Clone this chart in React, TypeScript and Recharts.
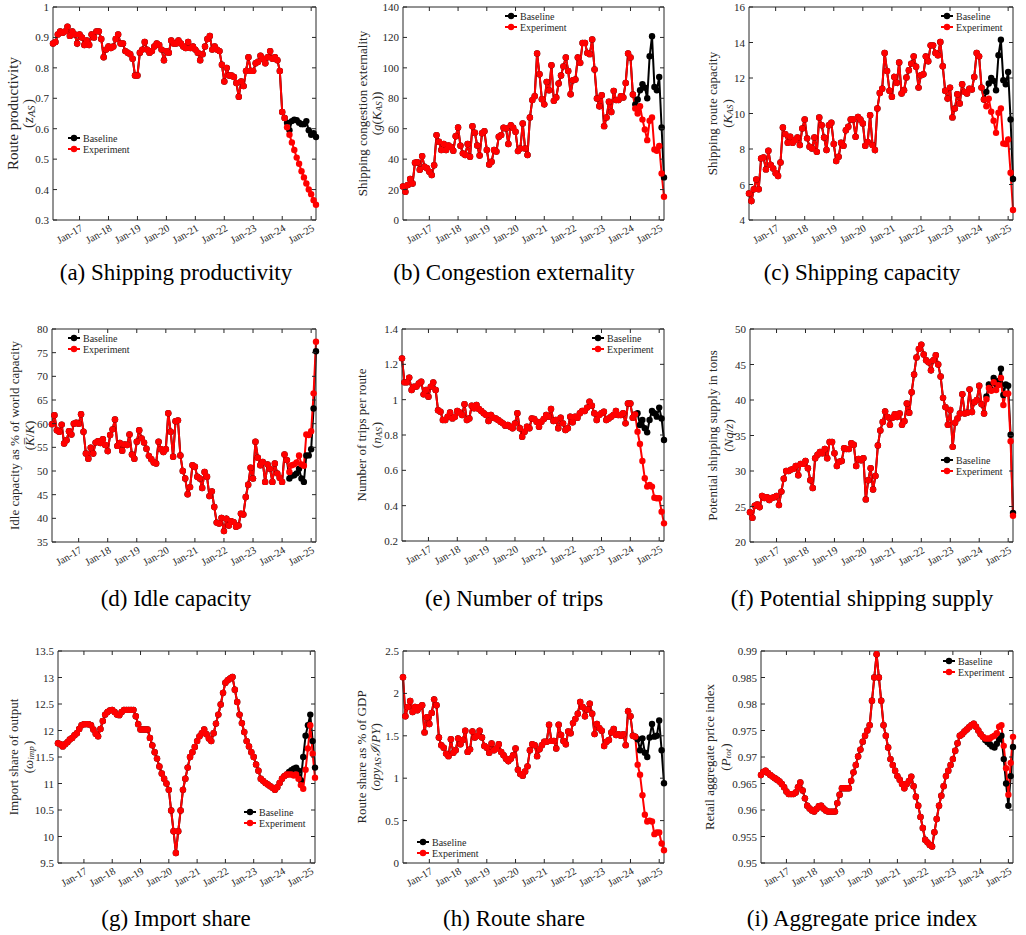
import React from "react";
import { LineChart, Line, XAxis, YAxis } from "recharts";

const FONT = '"Liberation Serif", "Times New Roman", serif';
const INK = "#262626";
const RED = "#ff0000";
const BLACK = "#000000";
const TICK = 4;

// x is a month index: 0 = Feb 2016 ... 109 = Mar 2025
const yearTicks = [11, 23, 35, 47, 59, 71, 83, 95, 107];
const yearLabels = ["Jan-17", "Jan-18", "Jan-19", "Jan-20", "Jan-21", "Jan-22", "Jan-23", "Jan-24", "Jan-25"];

// (a) route productivity
const productivity = [
  0.88, 0.885, 0.91, 0.92, 0.915, 0.92, 0.935, 0.905, 0.92, 0.91, 0.88,
  0.91, 0.9, 0.875, 0.89, 0.875, 0.91, 0.9, 0.92, 0.92, 0.895, 0.835, 0.86,
  0.87, 0.865, 0.87, 0.895, 0.91, 0.88, 0.88, 0.855, 0.85, 0.845, 0.83, 0.775,
  0.775, 0.85, 0.86, 0.885, 0.86, 0.85, 0.855, 0.87, 0.88, 0.875, 0.86, 0.825,
  0.855, 0.85, 0.89, 0.88, 0.88, 0.89, 0.88, 0.87, 0.865, 0.885, 0.865, 0.87,
  0.86, 0.85, 0.825, 0.845, 0.87, 0.895, 0.905, 0.86, 0.87, 0.86, 0.855, 0.81,
  0.755, 0.8, 0.775, 0.775, 0.77, 0.75, 0.705, 0.755, 0.74, 0.79, 0.835, 0.79,
  0.79, 0.815, 0.82, 0.84, 0.83, 0.815, 0.835, 0.855, 0.83, 0.835, 0.825, 0.79,
  0.655, 0.635, 0.605, 0.58, 0.555, 0.53, 0.505, 0.485, 0.46, 0.44, 0.42, 0.4,
  0.385, 0.365, 0.35,
];
const productivityBase = [0.62, 0.595, 0.625, 0.63, 0.628, 0.62, 0.615, 0.615, 0.625, 0.595, 0.58, 0.585, 0.573];
const productivityBaseFrom = 97;

// (b) congestion externality
const congestion = [
  22, 18.5, 23, 27, 24, 37.6, 38, 33, 42, 35, 34,
  31.7, 29.5, 36, 55.8, 51.4, 46, 50, 46, 49, 48, 45.5, 55,
  60.8, 48.8, 43.8, 42.7, 50, 41.6, 61.7, 57.3, 49, 42.4, 57, 58.4,
  46, 36.5, 38.3, 46, 45, 54.7, 55.8, 60.6, 60.2, 50, 62.3, 60.6,
  58, 45.3, 47, 63.4, 47, 42.7, 67.4, 78.8, 81.4, 109.4, 95.8, 79.4,
  76, 90.8, 85.3, 101.7, 78.3, 80.5, 89.7, 95, 101, 106.8, 98, 82.7,
  91.9, 92.3, 106.8, 103.3, 116.4, 116.4, 109.8, 109, 118.6, 99, 79.9, 74.8,
  82, 61.7, 67.4, 77.7, 71, 84.9, 78.8, 78.8, 81.4, 80.5, 90.1, 109.4,
  106.8, 82.5, 73.3, 70, 74.8, 66, 59.5, 52.5, 65.2, 67.4, 46.4, 45.5,
  48.6, 30.6, 15.3,
];
const congestionBase = [76, 79.2, 85.3, 89.3, 87, 80, 107.6, 120.8, 87.5, 85.3, 94, 60.8, 28];
const congestionBaseFrom = 97;

// (c) shipping route capacity
const capacity = [
  5.5, 5.07, 5.73, 6.29, 5.73, 7.47, 7.52, 6.85, 7.9, 7.1, 6.9,
  6.63, 6.48, 7.24, 9.21, 8.84, 8.35, 8.69, 8.35, 8.5, 8.65, 8.22, 9.16,
  9.66, 8.6, 8.13, 8.03, 8.65, 7.84, 9.78, 9.34, 8.65, 7.94, 9.34, 9.48,
  8.28, 7.32, 7.56, 8.35, 8.18, 9.06, 9.25, 9.66, 9.66, 8.69, 9.81, 9.66,
  9.44, 8.18, 8.4, 9.9, 8.22, 7.94, 10.28, 11.16, 11.4, 13.41, 12.4, 11.28,
  10.94, 12.06, 11.73, 12.87, 11.13, 11.31, 12.03, 12.44, 12.81, 13.22, 12.63, 11.46,
  12.16, 12.21, 13.22, 12.94, 13.84, 13.84, 13.41, 13.28, 14.03, 12.66, 11.28, 10.84,
  11.46, 9.78, 10.28, 11.09, 10.56, 11.65, 11.22, 11.13, 11.4, 11.35, 12.06, 13.41,
  13.22, 11.46, 10.79, 10.41, 10.84, 10.1, 9.59, 8.91, 10.04, 10.28, 8.31, 8.28,
  8.54, 6.66, 4.56,
];
const capacityBase = [11.22, 11.69, 12.0, 11.84, 11.31, 13.28, 14.16, 11.88, 11.65, 12.34, 9.66, 6.31];
const capacityBaseFrom = 98;

// (d) idle capacity, % of world capacity
const idle = [
  59.9, 61.8, 58.6, 58.3, 59.8, 55.8, 56.5, 58.4, 57.7, 60, 60.2,
  60, 62, 58.3, 53.7, 52.6, 54.9, 53.7, 56, 56.3, 55.9, 56.7, 55.5,
  54.2, 57.6, 58.8, 60.9, 55.3, 55.9, 54.3, 55.6, 55.5, 57.7, 53.5, 52.6,
  56.2, 58.6, 56.9, 56, 54.7, 53.2, 52.5, 51.8, 51.6, 56.2, 54.6, 54,
  54.6, 62.2, 58.3, 53, 60.5, 60.7, 53.3, 50, 48.4, 45.1, 46.6, 51.2,
  50.9, 48.8, 48.4, 46.4, 49.8, 48.8, 44.7, 45.7, 42.4, 39.1, 38.9, 40.1,
  37.3, 39.9, 38.5, 39.4, 39.2, 38.2, 38.5, 41, 40.8, 44.5, 47.1, 50.7,
  48.4, 56.2, 52.8, 51.2, 51.9, 47.7, 51.4, 50.5, 47.7, 51.6, 49.5, 48.6,
  47.7, 53.5, 52.3, 49.8, 51.2, 51.4, 51.8, 53.3, 51.4, 51.1, 57.7, 57.6,
  58.4, 66.4, 77.3,
];
const idleBase = [48.4, 49, 49.1, 49.5, 50.5, 48.4, 47.7, 53.3, 53.3, 54.6, 63.2, 75.3];
const idleBaseFrom = 98;

// (e) trips per route
const trips = [
  1.234, 1.098, 1.098, 1.125, 1.055, 1.074, 1.074, 1.092, 1.102, 1.03, 1.055,
  1.017, 1.074, 1.098, 1.055, 0.94, 0.932, 0.885, 0.885, 0.904, 0.928, 0.894, 0.904,
  0.936, 0.928, 0.913, 0.974, 0.885, 0.894, 0.966, 0.951, 0.97, 0.947, 0.936, 0.923,
  0.913, 0.879, 0.913, 0.898, 0.894, 0.885, 0.875, 0.866, 0.853, 0.857, 0.847, 0.838,
  0.866, 0.923, 0.838, 0.79, 0.819, 0.847, 0.838, 0.894, 0.891, 0.875, 0.847, 0.875,
  0.891, 0.913, 0.904, 0.947, 0.879, 0.885, 0.838, 0.898, 0.866, 0.828, 0.838, 0.904,
  0.872, 0.904, 0.898, 0.923, 0.936, 0.936, 0.955, 0.989, 0.966, 0.923, 0.885, 0.913,
  0.923, 0.932, 0.885, 0.894, 0.904, 0.913, 0.936, 0.913, 0.913, 0.923, 0.866, 0.979,
  0.979, 0.898, 0.917, 0.819, 0.749, 0.653, 0.555, 0.508, 0.517, 0.508, 0.445, 0.442,
  0.442, 0.366, 0.3,
];
const tripsBase = [0.923, 0.857, 0.885, 0.838, 0.815, 0.885, 0.936, 0.923, 0.904, 0.955, 0.894, 0.772];
const tripsBaseFrom = 98;

// (f) potential shipping supply
const supply = [
  24.2, 23.4, 25.1, 25.3, 24.9, 26.5, 26.2, 26.3, 25.9, 26.2, 26.3,
  26.5, 25.2, 27.1, 28.9, 30, 30, 30.2, 30.3, 30.7, 29.4, 31, 31,
  31.4, 30.4, 28.7, 27.6, 31.8, 32.3, 32.7, 32.5, 33.1, 31.8, 34.1, 34.1,
  32.5, 30.7, 31.3, 31.4, 33.2, 33.1, 33.1, 33.9, 33.7, 30.7, 31.7, 31.5,
  31.8, 26, 28.7, 30.4, 27.4, 29.3, 33.6, 35.7, 36.9, 38.4, 37.6, 36.5,
  37.5, 38, 37.6, 38.1, 36.5, 37, 39.5, 38.2, 41.1, 43.6, 46, 47.2,
  47.8, 46.4, 45.6, 45.3, 44.2, 45.6, 46.3, 45, 43.3, 40.3, 39, 36.5,
  38.6, 33.4, 36.8, 37.4, 38.1, 40.8, 38.1, 38.2, 41.5, 38.3, 39.7, 40,
  42, 39.4, 38.1, 40.1, 41.7, 41.3, 42.5, 41.4, 42.1, 43.1, 39.3, 40.9,
  40.9, 34.2, 23.7,
];
const supplyBase = [40.5, 42.2, 41.4, 43.1, 42.3, 42.7, 44.4, 40.7, 42.2, 42, 35.1, 24.1];
const supplyBaseFrom = 98;

// (g) import share of output
const importShare = [
  11.76, 11.74, 11.7, 11.74, 11.78, 11.83, 11.86, 11.91, 11.95, 12.03, 12.1,
  12.12, 12.12, 12.12, 12.1, 12.02, 11.94, 11.89, 12.03, 12.18, 12.3, 12.35, 12.38,
  12.39, 12.35, 12.3, 12.29, 12.35, 12.39, 12.39, 12.39, 12.39, 12.39, 12.27, 12.12,
  12.02, 12.02, 12.02, 12.02, 11.86, 11.72, 11.59, 11.47, 11.32, 11.19, 11.09, 11,
  10.88, 10.49, 10.1, 9.69, 10.1, 10.49, 10.88, 11.09, 11.3, 11.5, 11.59, 11.69,
  11.8, 11.89, 11.95, 12.02, 11.93, 11.85, 11.8, 11.95, 12.13, 12.3, 12.49, 12.71,
  12.9, 12.95, 12.98, 13.01, 12.77, 12.54, 12.3, 12.14, 11.97, 11.8, 11.7, 11.59,
  11.5, 11.36, 11.24, 11.09, 11.05, 11.01, 10.98, 10.95, 10.92, 10.88, 10.93, 11.01,
  11.09, 11.14, 11.17, 11.17, 11.17, 11.15, 11.17, 11.09, 10.97, 10.9, 11.26, 11.66,
  12.1, 11.56, 11.11,
];
const importShareBase = [11.22, 11.25, 11.28, 11.3, 11.24, 11.06, 11.5, 11.9, 12.1, 12.3, 11.8, 11.3];
const importShareBaseFrom = 98;

// (h) route share of GDP
const routeShare = [
  2.19, 1.73, 1.84, 1.91, 1.78, 1.84, 1.8, 1.84, 1.86, 1.54, 1.72,
  1.64, 1.77, 1.93, 1.86, 1.48, 1.39, 1.36, 1.29, 1.26, 1.46, 1.3, 1.33,
  1.47, 1.4, 1.45, 1.56, 1.31, 1.34, 1.55, 1.48, 1.5, 1.56, 1.48, 1.38,
  1.36, 1.3, 1.41, 1.33, 1.35, 1.4, 1.31, 1.27, 1.23, 1.2, 1.23, 1.27,
  1.35, 1.1, 1.05, 1.03, 1.08, 1.14, 1.33, 1.4, 1.39, 1.26, 1.34, 1.39,
  1.43, 1.43, 1.63, 1.44, 1.44, 1.35, 1.63, 1.51, 1.44, 1.4, 1.55, 1.53,
  1.65, 1.7, 1.76, 1.9, 1.84, 1.73, 1.81, 1.88, 1.76, 1.52, 1.64, 1.59,
  1.56, 1.38, 1.43, 1.45, 1.54, 1.58, 1.51, 1.52, 1.5, 1.52, 1.39, 1.79,
  1.73, 1.5, 1.49, 1.16, 1.04, 0.8, 0.57, 0.49, 0.5, 0.49, 0.34, 0.36,
  0.36, 0.23, 0.15,
];
const routeShareBase = [1.46, 1.33, 1.47, 1.3, 1.25, 1.48, 1.64, 1.49, 1.5, 1.68, 1.33, 0.94];
const routeShareBaseFrom = 98;

// (i) retail aggregate price index
const priceIndex = [
  0.9666, 0.9672, 0.9674, 0.967, 0.9666, 0.9663, 0.966, 0.9657, 0.9654, 0.9649, 0.9643,
  0.9635, 0.963, 0.963, 0.963, 0.9633, 0.9643, 0.9652, 0.9637, 0.9622, 0.9608, 0.9603, 0.9599,
  0.9597, 0.9602, 0.9607, 0.9608, 0.9603, 0.9599, 0.9597, 0.9597, 0.9597, 0.9597, 0.9613, 0.9629,
  0.9641, 0.9641, 0.9641, 0.9641, 0.9655, 0.9671, 0.9685, 0.9701, 0.9714, 0.9729, 0.974, 0.975,
  0.976, 0.9806, 0.985, 0.9894, 0.985, 0.9806, 0.976, 0.974, 0.9718, 0.9696, 0.9685, 0.9674,
  0.9664, 0.9657, 0.9649, 0.9641, 0.9649, 0.9655, 0.9663, 0.9645, 0.9625, 0.9608, 0.9587, 0.9566,
  0.9544, 0.9539, 0.9534, 0.9531, 0.9558, 0.9583, 0.9608, 0.9627, 0.9645, 0.9664, 0.9674, 0.9685,
  0.9696, 0.9712, 0.9726, 0.974, 0.9743, 0.9748, 0.9752, 0.9756, 0.976, 0.9763, 0.9757, 0.975,
  0.9743, 0.9738, 0.9735, 0.9735, 0.9735, 0.9738, 0.974, 0.9745, 0.9757, 0.976, 0.9721, 0.9679,
  0.9629, 0.9689, 0.9738,
];
const priceIndexBase = [0.9732, 0.9728, 0.9724, 0.972, 0.9718, 0.9725, 0.9733, 0.974, 0.9696, 0.965, 0.9608, 0.9664, 0.9719];
const priceIndexBaseFrom = 97;

const prodTicks = [0.3, 0.4, 0.5, 0.6, 0.7, 0.8, 0.9, 1];
const congTicks = [0, 20, 40, 60, 80, 100, 120, 140];
const capTicks = [4, 6, 8, 10, 12, 14, 16];
const idleTicks = [35, 40, 45, 50, 55, 60, 65, 70, 75, 80];
const tripTicks = [0.2, 0.4, 0.6, 0.8, 1, 1.2, 1.4];
const supplyTicks = [20, 25, 30, 35, 40, 45, 50];
const importTicks = [9.5, 10, 10.5, 11, 11.5, 12, 12.5, 13, 13.5];
const shareTicks = [0, 0.5, 1, 1.5, 2, 2.5];
const priceTicks = [0.95, 0.955, 0.96, 0.965, 0.97, 0.975, 0.98, 0.985, 0.99];

// baseline follows the experiment until the shock, then has its own path
function buildRows(exp: number[], tail: number[], from: number) {
  return exp.map((v, i) => ({
    i,
    exp: v,
    base: i < from ? v : tail[i - from] ?? null,
  }));
}

const Sub = ({ t }: { t: string }) => (
  <>
    <tspan fontStyle="italic" fontSize="0.7em" dy={2.5}>{t}</tspan>
    <tspan dy={-2.5}>{"\u200a"}</tspan>
  </>
);

type PanelSpec = {
  key: string;
  left: number;
  right: number;
  top: number;
  bottom: number;
  ticks: number[];
  exp: number[];
  base: number[];
  baseFrom: number;
  ylabel: string;
  math: React.ReactNode;
  labelX: [number, number];
  labelSize: number;
  legend: [number, number];
  caption: string;
  captionX: number;
  captionY: number;
};

const panels: PanelSpec[] = [
  {
    key: "a", left: 53, right: 316, top: 7, bottom: 220, ticks: prodTicks,
    exp: productivity, base: productivityBase, baseFrom: productivityBaseFrom,
    ylabel: "Route productivity",
    math: (<>(<tspan fontStyle="italic">z</tspan><Sub t="AS" />)</>),
    labelX: [13, 28], labelSize: 15, legend: [68, 138],
    caption: "(a) Shipping productivity", captionX: 176, captionY: 272,
  },
  {
    key: "b", left: 403, right: 664, top: 7, bottom: 220, ticks: congTicks,
    exp: congestion, base: congestionBase, baseFrom: congestionBaseFrom,
    ylabel: "Shipping congestion externality",
    math: (<>(<tspan fontStyle="italic">g</tspan>(<tspan fontStyle="italic">K</tspan><Sub t="AS" />))</>),
    labelX: [362, 376], labelSize: 13, legend: [505, 16],
    caption: "(b) Congestion externality", captionX: 514, captionY: 272,
  },
  {
    key: "c", left: 749, right: 1013, top: 7, bottom: 220, ticks: capTicks,
    exp: capacity, base: capacityBase, baseFrom: capacityBaseFrom,
    ylabel: "Shipping route capacity",
    math: (<>(<tspan fontStyle="italic">K</tspan><Sub t="AS" />)</>),
    labelX: [712, 727], labelSize: 13, legend: [941, 16],
    caption: "(c) Shipping capacity", captionX: 862, captionY: 272,
  },
  {
    key: "d", left: 52, right: 316, top: 329, bottom: 542, ticks: idleTicks,
    exp: idle, base: idleBase, baseFrom: idleBaseFrom,
    ylabel: "Idle capacity as % of world capacity",
    math: (<>(<tspan fontStyle="italic">{"K\u0305"}</tspan>/<tspan fontStyle="italic">K</tspan>)</>),
    labelX: [14, 29], labelSize: 13, legend: [68, 338],
    caption: "(d) Idle capacity", captionX: 176, captionY: 598,
  },
  {
    key: "e", left: 402, right: 664, top: 329, bottom: 541, ticks: tripTicks,
    exp: trips, base: tripsBase, baseFrom: tripsBaseFrom,
    ylabel: "Number of trips per route",
    math: (<>(<tspan fontStyle="italic">n</tspan><Sub t="AS" />)</>),
    labelX: [361, 376], labelSize: 13, legend: [592, 338],
    caption: "(e) Number of trips", captionX: 514, captionY: 598,
  },
  {
    key: "f", left: 750, right: 1013, top: 329, bottom: 542, ticks: supplyTicks,
    exp: supply, base: supplyBase, baseFrom: supplyBaseFrom,
    ylabel: "Potential shipping supply in tons",
    math: (<>(<tspan fontStyle="italic">Nq</tspan>/<tspan fontStyle="italic">z</tspan>)</>),
    labelX: [712, 728], labelSize: 13, legend: [941, 460],
    caption: "(f) Potential shipping supply", captionX: 862, captionY: 598,
  },
  {
    key: "g", left: 58, right: 315, top: 651, bottom: 863, ticks: importTicks,
    exp: importShare, base: importShareBase, baseFrom: importShareBaseFrom,
    ylabel: "Import share of output",
    math: (<>(<tspan fontStyle="italic">{"\u03c9"}</tspan><Sub t="imp" />)</>),
    labelX: [13, 28], labelSize: 13, legend: [244, 812],
    caption: "(g) Import share", captionX: 176, captionY: 918,
  },
  {
    key: "h", left: 403, right: 664, top: 651, bottom: 863, ticks: shareTicks,
    exp: routeShare, base: routeShareBase, baseFrom: routeShareBaseFrom,
    ylabel: "Route share as % of GDP",
    math: (<>(<tspan fontStyle="italic">opy</tspan><Sub t="AS" /><tspan fontStyle="italic">{"\u2110"}</tspan>/<tspan fontStyle="italic">PY</tspan>)</>),
    labelX: [361, 375], labelSize: 13, legend: [417, 842],
    caption: "(h) Route share", captionX: 514, captionY: 918,
  },
  {
    key: "i", left: 761, right: 1013, top: 651, bottom: 863, ticks: priceTicks,
    exp: priceIndex, base: priceIndexBase, baseFrom: priceIndexBaseFrom,
    ylabel: "Retail aggregate price index",
    math: (<>(<tspan fontStyle="italic">P</tspan><Sub t="tot" />)</>),
    labelX: [709, 725], labelSize: 13, legend: [943, 661],
    caption: "(i) Aggregate price index", captionX: 862, captionY: 918,
  },
];

// inward ticks on all four sides, MATLAB box style
const BottomTick = (props: any) => {
  const { x, y, payload } = props;
  const label = yearLabels[yearTicks.indexOf(payload.value)];
  const ax = x + 4;
  const ay = y + 10;
  return (
    <g>
      <line x1={x} x2={x} y1={y} y2={y - TICK} stroke={INK} />
      <text
        x={ax}
        y={ay}
        transform={`rotate(-30 ${ax} ${ay})`}
        textAnchor="end"
        fontSize={10.5}
        fontFamily={FONT}
        fill={INK}
      >
        {label}
      </text>
    </g>
  );
};

const TopTick = (props: any) => {
  const { x, y } = props;
  return <line x1={x} x2={x} y1={y} y2={y + TICK} stroke={INK} />;
};

const LeftTick = (props: any) => {
  const { x, y, payload } = props;
  return (
    <g>
      <line x1={x} x2={x + TICK} y1={y} y2={y} stroke={INK} />
      <text
        x={x - 4}
        y={y}
        textAnchor="end"
        dominantBaseline="central"
        fontSize={11}
        fontFamily={FONT}
        fill={INK}
      >
        {String(payload.value)}
      </text>
    </g>
  );
};

const RightTick = (props: any) => {
  const { x, y } = props;
  return <line x1={x} x2={x - TICK} y1={y} y2={y} stroke={INK} />;
};

// space around the plot box; each axis band is 1px and is taken out of these
const ML = 60;
const MR = 10;
const MT = 10;
const MB = 35;
const AX = 1;

function Panel({ p }: { p: PanelSpec }) {
  const rows = buildRows(p.exp, p.base, p.baseFrom);
  const w = p.right - p.left;
  const h = p.bottom - p.top;
  const domain: [number, number] = [p.ticks[0], p.ticks[p.ticks.length - 1]];
  const xDomain: [number, number] = [0, p.exp.length - 1];
  const axisLine = { stroke: INK, strokeWidth: 1 };
  return (
    <div style={{ position: "absolute", left: p.left - ML, top: p.top - MT }}>
      <LineChart
        width={w + ML + MR}
        height={h + MT + MB}
        data={rows}
        margin={{ top: MT - AX, right: MR - AX, bottom: MB - AX, left: ML - AX }}
      >
        <XAxis
          xAxisId="b"
          dataKey="i"
          type="number"
          domain={xDomain}
          ticks={yearTicks}
          interval={0}
          height={AX}
          tickSize={0}
          tickMargin={0}
          tickLine={false}
          axisLine={axisLine}
          tick={BottomTick}
        />
        <XAxis
          xAxisId="t"
          orientation="top"
          dataKey="i"
          type="number"
          domain={xDomain}
          ticks={yearTicks}
          interval={0}
          height={AX}
          tickSize={0}
          tickMargin={0}
          tickLine={false}
          axisLine={axisLine}
          tick={TopTick}
        />
        <YAxis
          yAxisId="l"
          type="number"
          domain={domain}
          ticks={p.ticks}
          interval={0}
          allowDataOverflow
          width={AX}
          tickSize={0}
          tickMargin={0}
          tickLine={false}
          axisLine={axisLine}
          tick={LeftTick}
        />
        <YAxis
          yAxisId="r"
          orientation="right"
          type="number"
          domain={domain}
          ticks={p.ticks}
          interval={0}
          allowDataOverflow
          width={AX}
          tickSize={0}
          tickMargin={0}
          tickLine={false}
          axisLine={axisLine}
          tick={RightTick}
        />
        <Line
          xAxisId="b"
          yAxisId="l"
          type="linear"
          dataKey="base"
          name="Baseline"
          stroke={BLACK}
          strokeWidth={2}
          dot={{ r: 3.2, fill: BLACK, stroke: "none" }}
          activeDot={false}
          isAnimationActive={false}
        />
        <Line
          xAxisId="b"
          yAxisId="l"
          type="linear"
          dataKey="exp"
          name="Experiment"
          stroke={RED}
          strokeWidth={2}
          dot={{ r: 3.2, fill: RED, stroke: "none" }}
          activeDot={false}
          isAnimationActive={false}
        />
      </LineChart>
    </div>
  );
}

function LegendBlock({ x, y }: { x: number; y: number }) {
  const items = [
    { name: "Baseline", color: BLACK },
    { name: "Experiment", color: RED },
  ];
  return (
    <g>
      {items.map((it, k) => {
        const cy = y + k * 11;
        return (
          <g key={it.name}>
            <line x1={x} x2={x + 12} y1={cy} y2={cy} stroke={it.color} strokeWidth={2} />
            <circle cx={x + 6} cy={cy} r={3.2} fill={it.color} />
            <text
              x={x + 15}
              y={cy}
              dominantBaseline="central"
              fontSize={10}
              fontFamily={FONT}
              fill={INK}
            >
              {it.name}
            </text>
          </g>
        );
      })}
    </g>
  );
}

export default function App() {
  return (
    <div
      style={{
        position: "absolute",
        left: 0,
        top: 0,
        width: 1026,
        height: 935,
        background: "#fff",
        overflow: "hidden",
      }}
    >
      {panels.map((p) => (
        <Panel key={p.key} p={p} />
      ))}
      <svg
        width={1026}
        height={935}
        style={{ position: "absolute", left: 0, top: 0, pointerEvents: "none" }}
      >
        {panels.map((p) => {
          const cy = (p.top + p.bottom) / 2;
          return (
            <g key={p.key} fontFamily={FONT} fill={INK}>
              <text
                transform={`translate(${p.labelX[0]} ${cy}) rotate(-90)`}
                textAnchor="middle"
                dominantBaseline="central"
                fontSize={p.labelSize}
              >
                {p.ylabel}
              </text>
              <text
                transform={`translate(${p.labelX[1]} ${cy}) rotate(-90)`}
                textAnchor="middle"
                dominantBaseline="central"
                fontSize={p.labelSize}
              >
                {p.math}
              </text>
              <LegendBlock x={p.legend[0]} y={p.legend[1]} />
              <text
                x={p.captionX}
                y={p.captionY}
                textAnchor="middle"
                dominantBaseline="central"
                fontSize={23}
                fill="#000"
              >
                {p.caption}
              </text>
            </g>
          );
        })}
      </svg>
    </div>
  );
}
